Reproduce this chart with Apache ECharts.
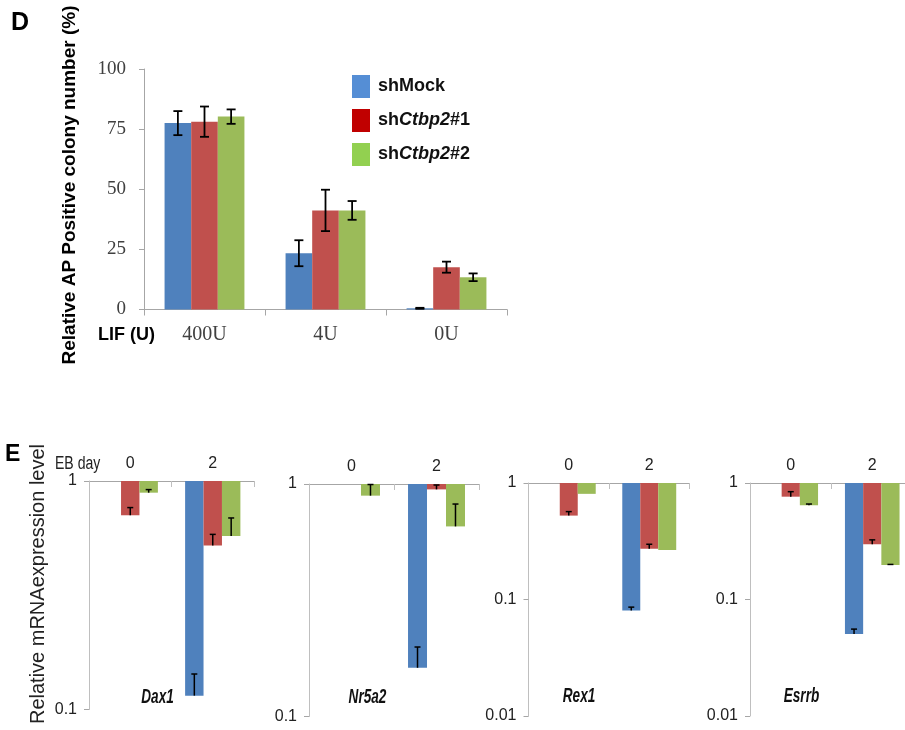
<!DOCTYPE html>
<html>
<head>
<meta charset="utf-8">
<script src="https://cdn.jsdelivr.net/npm/echarts@6/dist/echarts.min.js"></script>
<style>html,body{margin:0;padding:0;background:#fff}#c{width:905px;height:730px}</style>
</head>
<body>
<div id="c"></div>
<script>
// ---------- Panel D data ----------
const lifCategories = ['400U', '4U', '0U'];
const shMockD = [77.5, 23.4, 0.5];
const shMockErrD = [5.0, 5.4, 0.2];
const sh1D = [78.1, 41.2, 17.6];
const sh1ErrD = [6.3, 8.6, 2.3];
const sh2D = [80.2, 41.2, 13.4];
const sh2ErrD = [3.0, 3.9, 1.6];
const yTicksD = [0, 25, 50, 75, 100];

// ---------- Panel E data (relative expression, log scale) ----------
const ebDays = ['0', '2'];
const geneNames = ['Dax1', 'Nr5a2', 'Rex1', 'Esrrb'];
const dax1Mock = [1, 0.115];      const dax1MockHi = [null, 0.143];
const dax1Sh1 = [0.708, 0.522];   const dax1Sh1Hi = [0.765, 0.584];
const dax1Sh2 = [0.889, 0.575];   const dax1Sh2Hi = [0.917, 0.689];
const nr5a2Mock = [1, 0.162];     const nr5a2MockHi = [null, 0.199];
const nr5a2Sh1 = [1, 0.948];      const nr5a2Sh1Hi = [null, 0.99];
const nr5a2Sh2 = [0.891, 0.657];  const nr5a2Sh2Hi = [0.995, 0.82];
const rex1Mock = [1, 0.0805];     const rex1MockHi = [null, 0.086];
const rex1Sh1 = [0.525, 0.272];   const rex1Sh1Hi = [0.568, 0.298];
const rex1Sh2 = [0.807, 0.266];   const rex1Sh2Hi = [null, null];
const esrrbMock = [1, 0.0505];    const esrrbMockHi = [null, 0.0557];
const esrrbSh1 = [0.763, 0.298];  const esrrbSh1Hi = [0.842, 0.325];
const esrrbSh2 = [0.644, 0.198];  const esrrbSh2Hi = [0.66, 0.2];
const logMins = [0.1, 0.1, 0.01, 0.01];

const seriesNames = ['shMock', 'shCtbp2#1', 'shCtbp2#2'];
const barColors = ['#4F81BD', '#C0504D', '#9BBB59'];
const legendColors = ['#558ED5', '#C00000', '#92D050'];

const SERIF = "'Liberation Serif','Times New Roman',serif";
const SANS = "'Liberation Sans',Arial,sans-serif";

const GAP_D = 0.34, GAP_E = 0.33;

function errRenderer(k, gap, nCats, symmetric, capHalf, lw) {
  return function (params, api) {
    const cat = api.value(0);
    const band = params.coordSys.width / nCats;
    const bw = band * (1 - gap) / 3;
    const base = api.coord([cat, api.value(1)]);
    const x = base[0] + (k - 1) * bw;
    const yV = base[1];
    const yHi = api.coord([cat, api.value(3)])[1];
    const children = [];
    const style = { stroke: '#000', lineWidth: lw };
    if (symmetric) {
      const yLo = api.coord([cat, api.value(2)])[1];
      children.push({ type: 'line', shape: { x1: x, y1: yLo, x2: x, y2: yHi }, style });
      children.push({ type: 'line', shape: { x1: x - capHalf, y1: yLo, x2: x + capHalf, y2: yLo }, style });
      children.push({ type: 'line', shape: { x1: x - capHalf, y1: yHi, x2: x + capHalf, y2: yHi }, style });
    } else {
      children.push({ type: 'line', shape: { x1: x, y1: yV, x2: x, y2: yHi }, style });
      children.push({ type: 'line', shape: { x1: x - capHalf, y1: yHi, x2: x + capHalf, y2: yHi }, style });
    }
    return { type: 'group', children };
  };
}

const grids = [
  { left: 144, top: 69, width: 363, height: 240.5 },
  { left: 89, top: 481, width: 165, height: 228.5 },
  { left: 309, top: 484, width: 170, height: 232.5 },
  { left: 528.5, top: 483, width: 161, height: 233 },
  { left: 750, top: 483, width: 163, height: 233 }
].map(g => Object.assign({ outerBoundsMode: 'none', containLabel: false }, g));

const xAxes = [{
  gridIndex: 0, type: 'category', data: lifCategories,
  axisLine: { lineStyle: { color: '#A6A6A6', width: 1 } },
  axisTick: { show: true, length: 6, lineStyle: { color: '#A6A6A6' } },
  axisLabel: { fontFamily: SERIF, fontSize: 20, color: '#404040', margin: 15 }
}];
const yAxes = [{
  gridIndex: 0, type: 'value', min: 0, max: 100, interval: 25,
  axisLine: { show: true, lineStyle: { color: '#A6A6A6', width: 1 } },
  axisTick: { show: true, length: 5, lineStyle: { color: '#A6A6A6' } },
  axisLabel: { fontFamily: SERIF, fontSize: 19, color: '#404040', margin: 18,
    customValues: yTicksD },
  splitLine: { show: false }
}];

const series = [];
const dVals = [shMockD, sh1D, sh2D];
const dErrs = [shMockErrD, sh1ErrD, sh2ErrD];
for (let k = 0; k < 3; k++) {
  series.push({
    type: 'bar', name: seriesNames[k], xAxisIndex: 0, yAxisIndex: 0,
    data: dVals[k], barGap: '0%', barCategoryGap: (GAP_D * 100) + '%',
    itemStyle: { color: barColors[k] }
  });
}
for (let k = 0; k < 3; k++) {
  series.push({
    type: 'custom', xAxisIndex: 0, yAxisIndex: 0, z: 5, silent: true,
    renderItem: errRenderer(k, GAP_D, lifCategories.length, true, 4.5, 1.8),
    data: dVals[k].map((v, i) => [i, v, v - dErrs[k][i], v + dErrs[k][i]])
  });
}

const eVals = [
  [[dax1Mock, dax1MockHi], [dax1Sh1, dax1Sh1Hi], [dax1Sh2, dax1Sh2Hi]],
  [[nr5a2Mock, nr5a2MockHi], [nr5a2Sh1, nr5a2Sh1Hi], [nr5a2Sh2, nr5a2Sh2Hi]],
  [[rex1Mock, rex1MockHi], [rex1Sh1, rex1Sh1Hi], [rex1Sh2, rex1Sh2Hi]],
  [[esrrbMock, esrrbMockHi], [esrrbSh1, esrrbSh1Hi], [esrrbSh2, esrrbSh2Hi]]
];

for (let g = 0; g < 4; g++) {
  const gi = g + 1;
  xAxes.push({
    gridIndex: gi, type: 'category', position: 'top', data: ebDays,
    axisLine: { lineStyle: { color: '#A6A6A6', width: 1 } },
    axisTick: { show: true, inside: true, length: 6, lineStyle: { color: '#BFBFBF' } },
    axisLabel: { fontFamily: SANS, fontSize: 16, color: '#222', margin: 9 }
  });
  yAxes.push({
    gridIndex: gi, type: 'log', logBase: 10, min: logMins[g], max: 1,
    axisLine: { show: true, lineStyle: { color: '#BFBFBF', width: 1 } },
    axisTick: { show: true, length: 5, lineStyle: { color: '#A6A6A6' } },
    axisLabel: { fontFamily: SANS, fontSize: 16, color: '#222', margin: 12,
      formatter: v => String(+(+v).toPrecision(3)) },
    splitLine: { show: false }
  });
  for (let k = 0; k < 3; k++) {
    series.push({
      type: 'bar', name: seriesNames[k], xAxisIndex: gi, yAxisIndex: gi,
      data: eVals[g][k][0], barGap: '0%', barCategoryGap: (GAP_E * 100) + '%',
      itemStyle: { color: barColors[k] }
    });
  }
  for (let k = 0; k < 3; k++) {
    const vals = eVals[g][k][0], his = eVals[g][k][1];
    const data = [];
    vals.forEach((v, i) => { if (his[i] != null) data.push([i, v, v, his[i]]); });
    series.push({
      type: 'custom', xAxisIndex: gi, yAxisIndex: gi, z: 5, silent: true,
      renderItem: errRenderer(k, GAP_E, ebDays.length, false, 3, 1.5),
      data
    });
  }
}

const geneLabelPos = [[157.5, 697], [367.5, 697], [579, 696], [801.5, 696]];

const graphics = [
  { type: 'text', x: 11, y: 23, style: { text: 'D', font: 'bold 25px ' + SANS, fill: '#000', verticalAlign: 'middle' } },
  { type: 'text', x: 70, y: 185, rotation: Math.PI / 2,
    style: { text: 'Relative AP Positive colony number (%)', font: 'bold 19px ' + SANS, fill: '#000', align: 'center', verticalAlign: 'middle' } },
  { type: 'text', x: 98, y: 335, style: { text: 'LIF (U)', font: 'bold 18px ' + SANS, fill: '#000', verticalAlign: 'middle' } },
  { type: 'text', x: 5, y: 455, style: { text: 'E', font: 'bold 23px ' + SANS, fill: '#000', verticalAlign: 'middle' } },
  { type: 'text', x: 38, y: 584, rotation: Math.PI / 2,
    style: { text: 'Relative mRNAexpression level', font: '20px ' + SANS, fill: '#222', align: 'center', verticalAlign: 'middle' } },
  { type: 'text', x: 55, y: 464, scaleX: 0.78, style: { text: 'EB day', font: '18px ' + SANS, fill: '#222', verticalAlign: 'middle' } }
];
geneNames.forEach((n, i) => {
  graphics.push({ type: 'text', x: geneLabelPos[i][0], y: geneLabelPos[i][1], scaleX: 0.68,
    style: { text: n, font: 'italic bold 20px ' + SANS, fill: '#111', align: 'center', verticalAlign: 'middle' } });
});

const chart = echarts.init(document.getElementById('c'), null, { renderer: 'canvas' });
chart.setOption({
  animation: false,
  backgroundColor: '#fff',
  grid: grids,
  xAxis: xAxes,
  yAxis: yAxes,
  legend: {
    orient: 'vertical', left: 347, top: 70, itemWidth: 18, itemHeight: 23, itemGap: 11,
    icon: 'rect', selectedMode: false,
    data: seriesNames.map((n, i) => ({ name: n, itemStyle: { color: legendColors[i] } })),
    formatter: function (name) {
      const m = name.match(/^sh(.+)(#\d)$/);
      if (!m) return '{b|' + name + '}';
      return '{b|sh}{i|' + m[1] + '}{b|' + m[2] + '}';
    },
    textStyle: {
      padding: [0, 0, 0, 3],
      rich: {
        b: { fontFamily: SANS, fontWeight: 'bold', fontSize: 18, color: '#111' },
        i: { fontFamily: SANS, fontWeight: 'bold', fontStyle: 'italic', fontSize: 18, color: '#111' }
      }
    }
  },
  graphic: graphics,
  series
});
</script>
</body>
</html>
